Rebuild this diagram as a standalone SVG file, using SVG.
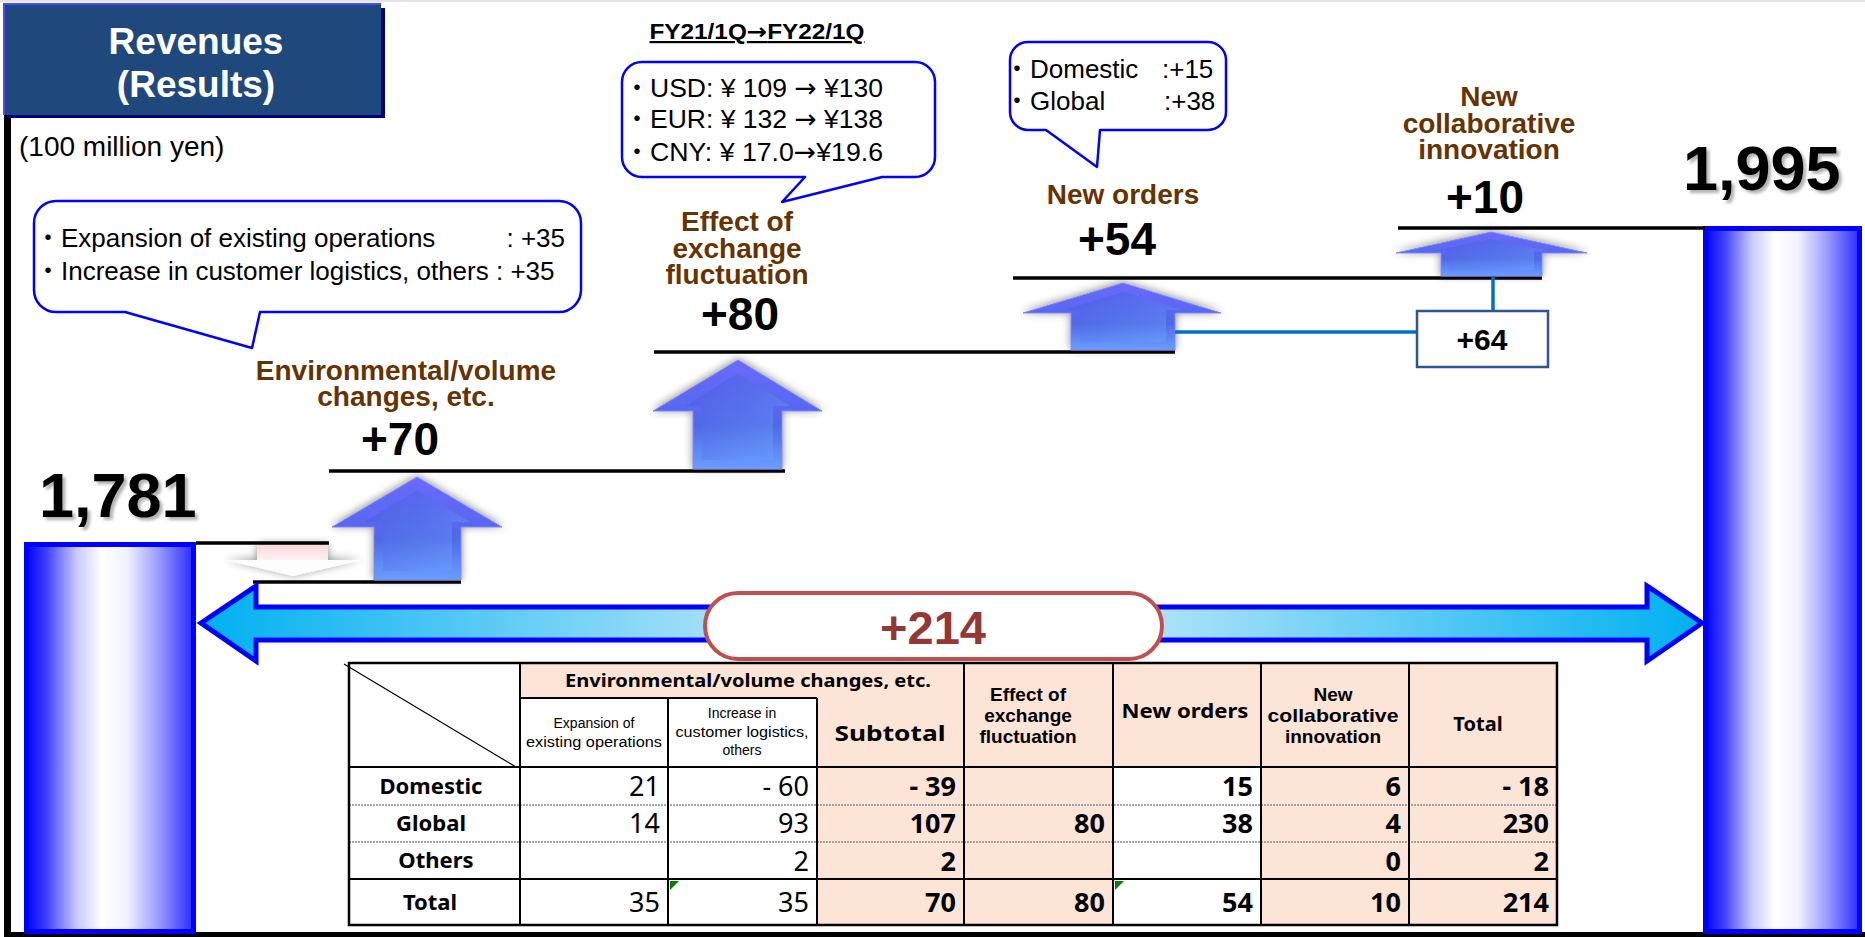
<svg xmlns="http://www.w3.org/2000/svg" width="1865" height="937" viewBox="0 0 1865 937">
<defs>
<style>
text{font-family:"Liberation Sans",Arial,"Noto Sans CJK JP",sans-serif}
.title{font-size:37px;font-weight:bold;fill:#fff;text-anchor:middle}
.unit{font-size:28px;fill:#000}
.co{font-size:26px;fill:#000}
.arw{font-family:"DejaVu Sans",sans-serif}
.callout{fill:#fff;stroke:#0000ff;stroke-width:2.5;stroke-linejoin:round}
.lbl{font-size:28px;font-weight:bold;fill:#663300;text-anchor:middle}
.num{font-size:46px;font-weight:bold;fill:#000;text-anchor:middle}
.big{font-size:63px;font-weight:bold;fill:#000}
.step{stroke:#000;stroke-width:3.5;fill:none}
.conn{stroke:#0070c0;stroke-width:3.5;fill:none}
.bar{fill:url(#barGrad);stroke:#0000ff;stroke-width:5}
.arrow{fill:url(#upGrad);stroke:#7c86ff;stroke-width:1}
.face{fill:url(#faceGrad);opacity:0.55}
.tt{font-family:"Noto Sans","Open Sans",sans-serif;fill:#000}
.tl{font-family:"Liberation Sans",Arial,sans-serif;fill:#000}
.th{font-weight:bold;text-anchor:middle}
.ts{font-size:14px;text-anchor:middle}
.td{text-anchor:end;font-size:27px}
.tb{font-weight:bold}
.peach{fill:#fce4d6}
.grid{stroke:#000;stroke-width:2;fill:none}
.dotl{stroke:#8a8a8a;stroke-width:1.5;stroke-dasharray:2 1}
</style>
<linearGradient id="barGrad" x1="0" y1="0" x2="1" y2="0">
<stop offset="0" stop-color="#0000ff"/>
<stop offset="0.12" stop-color="#4040ff"/>
<stop offset="0.3" stop-color="#c8c8ff"/>
<stop offset="0.45" stop-color="#ffffff"/>
<stop offset="0.6" stop-color="#f2f2ff"/>
<stop offset="0.8" stop-color="#9595ff"/>
<stop offset="1" stop-color="#2a2aff"/>
</linearGradient>
<linearGradient id="upGrad" x1="0" y1="0" x2="0" y2="1">
<stop offset="0" stop-color="#6a6aff"/>
<stop offset="0.45" stop-color="#5868f0"/>
<stop offset="0.6" stop-color="#5068e8"/>
<stop offset="1" stop-color="#6a9eff"/>
</linearGradient>
<linearGradient id="faceGrad" x1="0" y1="0" x2="1" y2="1">
<stop offset="0" stop-color="#3f4fd8"/>
<stop offset="1" stop-color="#6fa4ff"/>
</linearGradient>
<linearGradient id="pinkGrad" x1="0" y1="0" x2="0" y2="1">
<stop offset="0" stop-color="#f7d9d9"/>
<stop offset="1" stop-color="#fff4f4"/>
</linearGradient>
<linearGradient id="dblGrad" x1="201" y1="0" x2="1702" y2="0" gradientUnits="userSpaceOnUse">
<stop offset="0" stop-color="#00b0f0"/>
<stop offset="0.5" stop-color="#eef5fd"/>
<stop offset="1" stop-color="#00b0f0"/>
</linearGradient>
<filter id="glow" x="-20%" y="-30%" width="140%" height="160%">
<feGaussianBlur in="SourceAlpha" stdDeviation="4"/>
<feOffset dx="0" dy="-1"/>
<feComponentTransfer><feFuncA type="linear" slope="0.45"/></feComponentTransfer>
<feMerge><feMergeNode/><feMergeNode in="SourceGraphic"/></feMerge>
</filter>
<filter id="tshadow" x="-10%" y="-10%" width="130%" height="130%">
<feDropShadow dx="3" dy="3" stdDeviation="1.5" flood-color="#000" flood-opacity="0.3"/>
</filter>
</defs>

<rect width="1865" height="937" fill="#fff"/>
<g id="frame">
<rect x="0" y="0" width="1865" height="2" fill="#e4e4e4"/>
<rect x="4" y="115" width="7" height="822" fill="#000"/>
<rect x="4" y="932" width="1861" height="5" fill="#000"/>
</g>

<g id="title">
<rect x="8" y="8" width="377" height="110" fill="#000080"/>
<rect x="4" y="4" width="377" height="111" fill="#1f497d"/>
<path d="M4 115 V4 H381" stroke="#4a4aff" stroke-width="2" fill="none"/>
<text class="title" x="196" y="54">Revenues</text>
<text class="title" x="196" y="97">(Results)</text>
</g>

<g id="unit"><text class="unit" x="19" y="156">(100 million yen)</text></g>

<g id="period"><text x="757" y="39" font-size="22" font-weight="bold" text-anchor="middle" text-decoration="underline" textLength="215" lengthAdjust="spacingAndGlyphs">FY21/1Q<tspan class="arw">→</tspan>FY22/1Q</text></g>

<g id="callout-env">
<path class="callout" d="M56 201 H559 A22 22 0 0 1 581 223 V290 A22 22 0 0 1 559 312 H260 L252 348 L125 312 H56 A22 22 0 0 1 34 290 V223 A22 22 0 0 1 56 201 Z"/>
<text class="co" x="35" y="247">・</text>
<text class="co" x="61" y="247">Expansion of existing operations</text>
<text class="co" x="565" y="247" text-anchor="end">: +35</text>
<text class="co" x="35" y="280">・</text>
<text class="co" x="61" y="280">Increase in customer logistics, others : +35</text>
</g>

<g id="callout-fx">
<path class="callout" d="M642 62 H915 A20 20 0 0 1 935 82 V157 A20 20 0 0 1 915 177 H882 L782 202 L805 177 H642 A20 20 0 0 1 622 157 V82 A20 20 0 0 1 642 62 Z"/>
<text class="co" x="624" y="97">・</text>
<text class="co" x="650" y="97" textLength="233" lengthAdjust="spacingAndGlyphs">USD: ¥ 109 <tspan class="arw">→</tspan> ¥130</text>
<text class="co" x="624" y="128">・</text>
<text class="co" x="650" y="128" textLength="233" lengthAdjust="spacingAndGlyphs">EUR: ¥ 132 <tspan class="arw">→</tspan> ¥138</text>
<text class="co" x="624" y="161">・</text>
<text class="co" x="650" y="161" textLength="233" lengthAdjust="spacingAndGlyphs">CNY: ¥ 17.0<tspan class="arw">→</tspan>¥19.6</text>
</g>

<g id="callout-orders">
<path class="callout" d="M1028 42 H1208 A18 18 0 0 1 1226 60 V112 A18 18 0 0 1 1208 130 H1100 L1097 167 L1046 130 H1028 A18 18 0 0 1 1010 112 V60 A18 18 0 0 1 1028 42 Z"/>
<text class="co" x="1004" y="78">・</text>
<text class="co" x="1030" y="78">Domestic</text>
<text class="co" x="1162" y="78">:+15</text>
<text class="co" x="1004" y="110">・</text>
<text class="co" x="1030" y="110">Global</text>
<text class="co" x="1164" y="110">:+38</text>
</g>

<g id="bar-start">
<rect class="bar" x="26.5" y="544.5" width="167" height="387"/>
<text class="big" x="39" y="517" filter="url(#tshadow)">1,781</text>
</g>

<g id="bar-end">
<rect class="bar" x="1705.5" y="228.5" width="154" height="703"/>
<text class="big" x="1683" y="190" filter="url(#tshadow)">1,995</text>
</g>

<g id="step-env">
<line class="step" x1="196" y1="543" x2="329" y2="543"/>
<line class="step" x1="253" y1="582" x2="461" y2="582"/>
<g filter="url(#glow)">
<rect x="257" y="545" width="71" height="16" fill="url(#pinkGrad)"/>
<polygon points="225,560 362,560 293,576" fill="#fdfdfd"/>
</g>
<g filter="url(#glow)">
<polygon class="arrow" points="417,477 502,527 461,527 461,580 374,580 374,527 332,527"/>
<polygon class="face" points="417,490 470,522 452,522 452,571 383,571 383,522 364,522"/>
</g>
<text class="lbl" x="406" y="380">Environmental/volume</text>
<text class="lbl" x="406" y="406">changes, etc.</text>
<text class="num" x="400" y="455">+70</text>
</g>

<g id="step-fx">
<line class="step" x1="329" y1="471" x2="785" y2="471"/>
<g filter="url(#glow)">
<polygon class="arrow" points="738,360 822,411 782,411 782,469 693,469 693,411 653,411"/>
<polygon class="face" points="738,373 790,406 773,406 773,460 702,460 702,406 685,406"/>
</g>
<text class="lbl" x="737" y="231">Effect of</text>
<text class="lbl" x="737" y="258">exchange</text>
<text class="lbl" x="737" y="284">fluctuation</text>
<text class="num" x="740" y="330">+80</text>
</g>

<g id="step-orders">
<line class="step" x1="654" y1="352" x2="1175" y2="352"/>
<g filter="url(#glow)">
<polygon class="arrow" points="1123,283 1221,313 1175,313 1175,350 1071,350 1071,313 1023,313"/>
<polygon class="face" points="1123,292 1182,310 1166,310 1166,342 1080,342 1080,310 1064,310"/>
</g>
<text class="lbl" x="1123" y="204">New orders</text>
<text class="num" x="1117" y="255">+54</text>
</g>

<g id="step-collab">
<line class="step" x1="1013" y1="278" x2="1542" y2="278"/>
<g filter="url(#glow)">
<polygon class="arrow" points="1491,232 1587,253 1542,253 1542,276 1441,276 1441,253 1396,253"/>
<polygon class="face" points="1491,239 1549,251 1534,251 1534,270 1449,270 1449,251 1433,251"/>
</g>
<text class="lbl" x="1489" y="106">New</text>
<text class="lbl" x="1489" y="133">collaborative</text>
<text class="lbl" x="1489" y="159">innovation</text>
<text class="num" x="1485" y="213">+10</text>
<line class="step" x1="1398" y1="228" x2="1705" y2="228"/>
</g>

<g id="connectors">
<line class="conn" x1="1175" y1="332" x2="1417" y2="332"/>
<line class="conn" x1="1493" y1="276" x2="1493" y2="311"/>
</g>

<g id="sum-64">
<rect x="1417" y="311" width="131" height="56" fill="#fff" stroke="#2f5597" stroke-width="2.5"/>
<text x="1482" y="350" font-size="30" font-weight="bold" text-anchor="middle">+64</text>
</g>

<g id="total-arrow">
<polygon points="201,623 256,586 256,607 1647,607 1647,586 1702,623 1647,661 1647,640 256,640 256,661" fill="url(#dblGrad)" stroke="#0000ff" stroke-width="5"/>
<rect x="705" y="593" width="457" height="66" rx="33" fill="#fff" stroke="#c0504d" stroke-width="4"/>
<text x="933" y="644" font-size="47" font-weight="bold" fill="#953735" text-anchor="middle">+214</text>
</g>

<g id="table">
<rect x="349" y="663" width="1208" height="262" fill="#fff"/>
<rect class="peach" x="520" y="663" width="444" height="35"/>
<rect class="peach" x="817" y="698" width="147" height="227"/>
<rect class="peach" x="964" y="663" width="149" height="262"/>
<rect class="peach" x="1113" y="663" width="148" height="104"/>
<rect class="peach" x="1261" y="663" width="296" height="262"/>
<line class="dotl" x1="349" y1="805" x2="1557" y2="805"/>
<line class="dotl" x1="349" y1="842" x2="1557" y2="842"/>
<path class="grid" d="M520 663 V925 M668 698 V925 M817 698 V925 M964 663 V925 M1113 663 V925 M1261 663 V925 M1409 663 V925 M520 698 H817 M349 767 H1557 M349 879 H1557"/>
<rect x="349" y="663" width="1208" height="262" fill="none" stroke="#000" stroke-width="2.5"/>
<line x1="344" y1="664" x2="516" y2="767" stroke="#000" stroke-width="1.2"/>
<polygon points="670,881 679,881 670,890" fill="#008000"/>
<polygon points="1115,881 1124,881 1115,890" fill="#008000"/>

<text class="tt th" x="748" y="687" font-size="18" textLength="366" lengthAdjust="spacingAndGlyphs">Environmental/volume changes, etc.</text>
<text class="tl ts" x="594" y="728">Expansion of</text>
<text class="tl ts" x="594" y="747" textLength="136" lengthAdjust="spacingAndGlyphs">existing operations</text>
<text class="tl ts" x="742" y="718">Increase in</text>
<text class="tl ts" x="742" y="737" textLength="133" lengthAdjust="spacingAndGlyphs">customer logistics,</text>
<text class="tl ts" x="742" y="755">others</text>
<text class="tt th" x="890" y="741" font-size="22" textLength="111" lengthAdjust="spacingAndGlyphs">Subtotal</text>
<text class="tl th" x="1028" y="701" font-size="19">Effect of</text>
<text class="tl th" x="1028" y="722" font-size="19">exchange</text>
<text class="tl th" x="1028" y="743" font-size="19">fluctuation</text>
<text class="tt th" x="1185" y="718" font-size="20" textLength="127" lengthAdjust="spacingAndGlyphs">New orders</text>
<text class="tl th" x="1333" y="701" font-size="19">New</text>
<text class="tl th" x="1333" y="722" font-size="19" textLength="131" lengthAdjust="spacingAndGlyphs">collaborative</text>
<text class="tl th" x="1333" y="743" font-size="19">innovation</text>
<text class="tt th" x="1478" y="731" font-size="20">Total</text>

<text class="tt th" x="431" y="794" font-size="22">Domestic</text>
<text class="tt th" x="431" y="831" font-size="22">Global</text>
<text class="tt th" x="436" y="868" font-size="22">Others</text>
<text class="tt th" x="430" y="910" font-size="22">Total</text>

<text class="tt td" x="660" y="796">21</text>
<text class="tt td" x="809" y="796">- 60</text>
<text class="tt td tb" x="956" y="796">- 39</text>
<text class="tt td tb" x="1253" y="796">15</text>
<text class="tt td tb" x="1401" y="796">6</text>
<text class="tt td tb" x="1549" y="796">- 18</text>

<text class="tt td" x="660" y="833">14</text>
<text class="tt td" x="809" y="833">93</text>
<text class="tt td tb" x="956" y="833">107</text>
<text class="tt td tb" x="1105" y="833">80</text>
<text class="tt td tb" x="1253" y="833">38</text>
<text class="tt td tb" x="1401" y="833">4</text>
<text class="tt td tb" x="1549" y="833">230</text>

<text class="tt td" x="809" y="871">2</text>
<text class="tt td tb" x="956" y="871">2</text>
<text class="tt td tb" x="1401" y="871">0</text>
<text class="tt td tb" x="1549" y="871">2</text>

<text class="tt td" x="660" y="912">35</text>
<text class="tt td" x="809" y="912">35</text>
<text class="tt td tb" x="956" y="912">70</text>
<text class="tt td tb" x="1105" y="912">80</text>
<text class="tt td tb" x="1253" y="912">54</text>
<text class="tt td tb" x="1401" y="912">10</text>
<text class="tt td tb" x="1549" y="912">214</text>
</g>
</svg>
